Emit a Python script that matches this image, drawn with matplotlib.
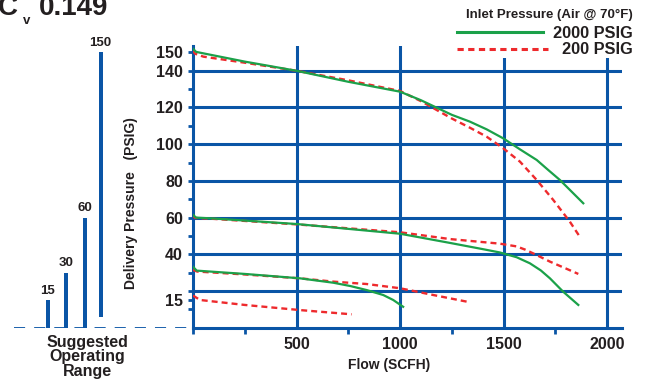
import matplotlib
matplotlib.use('Agg')
import matplotlib.pyplot as plt
from matplotlib.lines import Line2D
from matplotlib.patches import Rectangle
from matplotlib.ticker import FixedLocator, FixedFormatter

plt.rcParams['font.family'] = ['Liberation Sans', 'DejaVu Sans']
plt.rcParams['font.weight'] = 'bold'
plt.rcParams['lines.scale_dashes'] = False

# ---------------- data ----------------
g150_x = [0, 15, 50, 250, 500, 750, 1000, 1100, 1250, 1337, 1418, 1498, 1579, 1660, 1716, 1772, 1829, 1885]
g150_y = [152, 150.3, 149.5, 145, 140, 134, 128.6, 124, 116, 112.3, 108.1, 103.2, 97.2, 91.4, 85.9, 80.5, 74.1, 67.8]
r150_x = [0, 10, 50, 250, 500, 750, 1000, 1100, 1250, 1337, 1418, 1498, 1579, 1660, 1740, 1820, 1865]
r150_y = [151, 149.3, 147.7, 144.4, 140, 134.8, 129, 123.5, 114, 109, 104.1, 97.8, 90.5, 80.5, 69.6, 57.8, 50.1]

g60_x = [0, 15, 100, 500, 1000, 1241, 1400, 1482, 1563, 1627, 1680, 1724, 1788, 1861]
g60_y = [61.5, 60, 59.5, 56.5, 51.2, 46.2, 42.8, 41, 38.4, 35.1, 31.2, 26.9, 19.6, 12.4]
r60_x = [0, 10, 100, 500, 1000, 1241, 1482, 1563, 1603, 1643, 1724, 1800, 1861]
r60_y = [61.3, 59.8, 59.3, 56.3, 52, 48.3, 45.8, 44.3, 42.6, 40.5, 36, 32.3, 29.3]

g30_x = [0, 18, 250, 517, 678, 760, 839, 919, 967, 1015]
g30_y = [33.2, 31.1, 29.3, 26.9, 24.5, 22.7, 20.5, 17.8, 15.1, 11.4]
r30_x = [0, 20, 250, 517, 678, 839, 1000, 1161, 1322]
r30_y = [31.5, 30.6, 29, 26.9, 25.1, 23.8, 21.5, 17.8, 14.2]

r15_x = [0, 34, 250, 517, 766]
r15_y = [17.5, 15.1, 12.4, 9.6, 7.3]

range_values = [15, 30, 60, 150]
range_labels = ['15', '30', '60', '150']

x_grid = [500, 1000, 1500, 2000]
x_ticklabels = ['500', '1000', '1500', '2000']
y_grid = [20, 40, 60, 80, 100, 120, 140]
y_labeled = [15, 40, 60, 80, 100, 120, 140, 150]
y_minor = [10, 30, 50, 70, 90, 110, 130]

legend_title = 'Inlet Pressure (Air @ 70°F)'
legend_labels = ['2000 PSIG', '200 PSIG']

# ---------------- style ----------------
BLUE = '#0a55a6'
GREEN = '#1ba149'
RED = '#ee2a2d'
TXT = '#231f20'

W, H = 649, 382
fig = plt.figure(figsize=(W / 100, H / 100), dpi=100)


def fx(px):
    return px / W


def fy(py):
    return 1 - py / H


Y0, YT = 327.7, 46
ax = fig.add_axes([fx(193), fy(Y0), (622 - 193) / W, (Y0 - YT) / H])
ax.set_xlim(0, 2072)
ax.set_ylim(0, 153.5)

for y in y_grid:
    ax.axhline(y, color=BLUE, lw=2.2, zorder=1)
for x in x_grid:
    ax.axvline(x, color=BLUE, lw=2.2, zorder=1)

for s in ['top', 'right']:
    ax.spines[s].set_visible(False)
for s in ['left', 'bottom']:
    ax.spines[s].set_color(BLUE)
    ax.spines[s].set_linewidth(2.2)
    ax.spines[s].set_zorder(2)

lw_g, lw_r = 1.6, 1.7
dash = (0, (4.3, 2.9))
kw_g = dict(color=GREEN, lw=lw_g, zorder=4, solid_joinstyle='round')
kw_r = dict(color=RED, lw=lw_r, ls=dash, zorder=3)
ax.plot(g150_x, g150_y, **kw_g)
ax.plot(r150_x, r150_y, **kw_r)
ax.plot(g60_x, g60_y, **kw_g)
ax.plot(r60_x, r60_y, **kw_r)
ax.plot(g30_x, g30_y, **kw_g)
ax.plot(r30_x, r30_y, **kw_r)
ax.plot(r15_x, r15_y, **kw_r)

# y ticks
y_major = sorted(set(y_labeled + y_grid + y_minor))
ax.yaxis.set_major_locator(FixedLocator(y_major))
ax.yaxis.set_major_formatter(FixedFormatter([str(v) if v in y_labeled else '' for v in y_major]))
ax.yaxis.set_minor_locator(FixedLocator(y_minor))
ax.tick_params(axis='y', which='major', direction='out', length=3.8, width=2, color=BLUE,
               labelsize=11.5, labelcolor=TXT, pad=3.5)
ax.tick_params(axis='y', which='minor', direction='in', length=11, width=2, color=BLUE)

# x ticks
ax.xaxis.set_major_locator(FixedLocator(x_grid))
ax.xaxis.set_major_formatter(FixedFormatter(x_ticklabels))
ax.xaxis.set_minor_locator(FixedLocator([0, 250, 750, 1250, 1750]))
ax.tick_params(axis='x', which='major', length=0, labelsize=11.5, labelcolor=TXT, pad=7)
ax.tick_params(axis='x', which='minor', direction='out', length=4.5, width=2, color=BLUE)
for lab in ax.get_xticklabels() + ax.get_yticklabels():
    lab.set_fontweight('bold')

# ---------------- suggested operating range ----------------
ax2 = fig.add_axes([0, fy(Y0), fx(193), (Y0 - YT) / H])
ax2.set_xlim(0, 193)
ax2.set_ylim(0, 153.5)
ax2.axis('off')
bar_x = [47.7, 66.3, 85, 100.5]
bar_bottom = [0, 0, 0, 6]
heights = [v - b for v, b in zip(range_values, bar_bottom)]
ax2.bar(bar_x, heights, bottom=bar_bottom, width=4, color=BLUE, zorder=2)
for x, v, lab in zip(bar_x, range_values, range_labels):
    ax2.annotate(lab, (x, v), xytext=(0, 2.5), textcoords='offset points',
                 ha='center', va='bottom', fontsize=9.5, fontweight='bold', color=TXT)
ax2.plot([14, 193], [0, 0], color=BLUE, lw=1.3, dashes=(8, 6.5), zorder=1)

fig.text(fx(87), fy(357), 'Suggested\nOperating\nRange', ha='center', va='center',
         fontsize=11.5, fontweight='bold', color=TXT, linespacing=0.95)

# axis labels
fig.text(fx(131), fy(203), 'Delivery Pressure   (PSIG)', rotation=90, ha='center', va='center',
         fontsize=10, fontweight='bold', color=TXT)
fig.text(fx(389), fy(365), 'Flow (SCFH)', ha='center', va='center',
         fontsize=10, fontweight='bold', color=TXT)

# title
fig.text(fx(-2), fy(15), 'C', ha='left', va='baseline', fontsize=20, fontweight='bold', color=TXT)
fig.text(fx(22.5), fy(23.5), 'v', ha='left', va='baseline', fontsize=9.5, fontweight='bold', color=TXT)
fig.text(fx(39), fy(15), '0.149', ha='left', va='baseline', fontsize=20, fontweight='bold', color=TXT)

# legend (drawn manually)
fig.add_artist(Rectangle((fx(440), fy(58)), fx(649) - fx(440), 58 / H, transform=fig.transFigure,
                         facecolor='white', edgecolor='none', zorder=5))
fig.text(fx(633), fy(15), legend_title, ha='right', va='center', fontsize=9.5,
         fontweight='bold', color=TXT, zorder=6)
fig.add_artist(Line2D([fx(457), fx(543)], [fy(32), fy(32)], color=GREEN, lw=2.2, zorder=6))
fig.add_artist(Line2D([fx(457), fx(548)], [fy(49), fy(49)], color=RED, lw=2.2, dashes=(4.5, 3.2), zorder=6))
fig.text(fx(633), fy(33), legend_labels[0], ha='right', va='center', fontsize=11.8,
         fontweight='bold', color=TXT, zorder=6)
fig.text(fx(633), fy(49), legend_labels[1], ha='right', va='center', fontsize=11.8,
         fontweight='bold', color=TXT, zorder=6)

fig.savefig('out.png', dpi=100)
